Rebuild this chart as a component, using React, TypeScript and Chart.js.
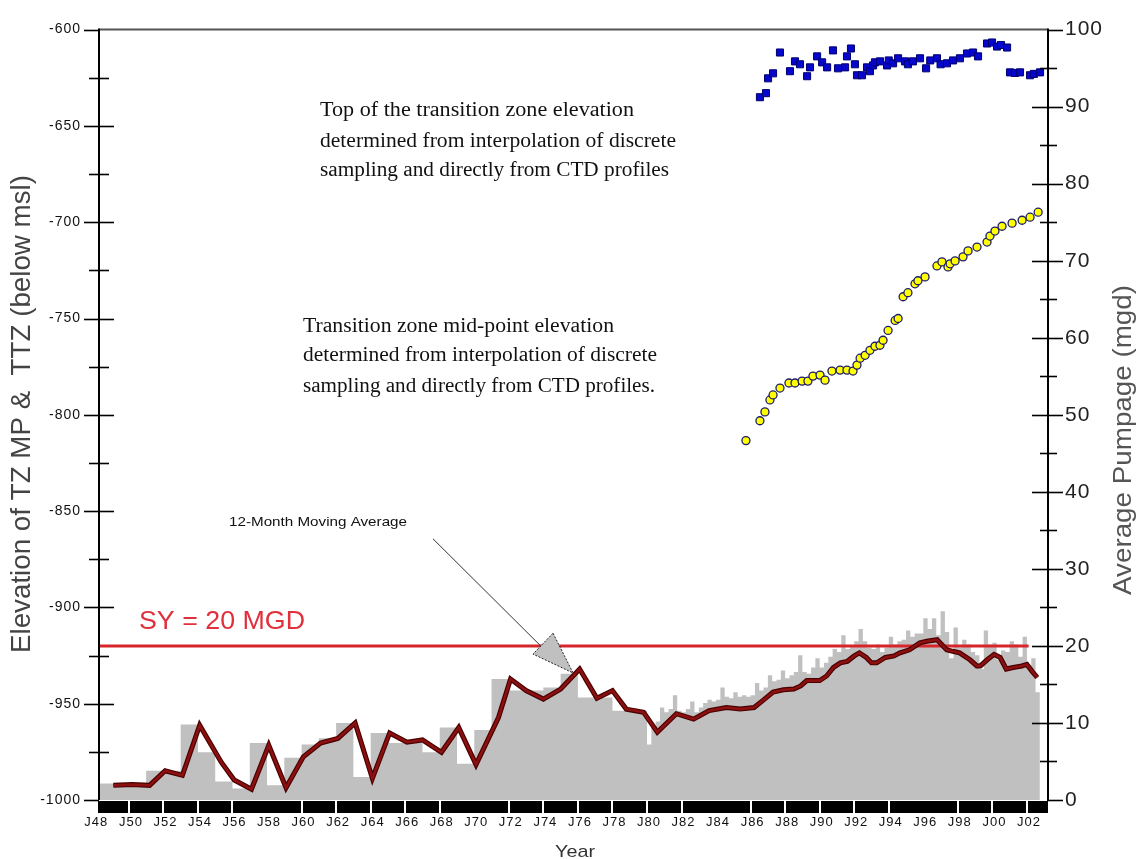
import React, { useEffect, useRef } from 'react';
import { Chart, registerables } from 'chart.js';

Chart.register(...registerables);

// ---------- DATA ----------
// Annual average pumpage (mgd), value holds from Jan of the year
const annualYears = [1948, 1949, 1950, 1951, 1952, 1953, 1954, 1955, 1956, 1957, 1958, 1959, 1960, 1961, 1962, 1963, 1964, 1965, 1966, 1967, 1968, 1969, 1970, 1971, 1972, 1973, 1974, 1975, 1976, 1977, 1978, 1979];
const annualPumpage = [2.15, 2.15, 2.15, 3.8, 3.8, 9.8, 6.2, 2.4, 1.5, 7.4, 1.9, 5.5, 7.2, 8.0, 10.0, 3.0, 8.7, 7.4, 7.4, 6.2, 9.4, 4.7, 9.1, 15.7, 14.2, 14.2, 14.6, 16.4, 13.3, 13.3, 11.6, 11.6];

// Quarterly average pumpage (mgd) from 1980 on
const quarterYears = [1980, 1981, 1982, 1983, 1984, 1985, 1986, 1987, 1988, 1989, 1990, 1991, 1992, 1993, 1994, 1995, 1996, 1997, 1998, 1999, 2000, 2001, 2002];
const quarterlyPumpage = [
  [7.2, 9.4, 10.2, 12.0],
  [11.4, 11.8, 13.6, 11.6],
  [11.4, 11.8, 12.8, 11.4],
  [12.0, 12.6, 13.0, 12.8],
  [13.0, 14.6, 13.4, 13.2],
  [14.0, 13.4, 13.6, 13.4],
  [13.6, 15.2, 14.2, 14.6],
  [16.2, 15.4, 15.6, 16.8],
  [15.8, 16.2, 16.6, 18.8],
  [16.6, 16.4, 17.2, 18.4],
  [17.2, 17.8, 18.6, 19.6],
  [19.2, 21.4, 19.6, 20.0],
  [20.6, 22.2, 20.6, 19.8],
  [19.6, 20.2, 19.2, 19.8],
  [21.2, 20.2, 20.6, 20.8],
  [22.0, 21.2, 21.6, 21.6],
  [23.6, 22.2, 23.6, 21.4],
  [24.5, 21.8, 18.4, 22.4],
  [19.8, 20.8, 20.2, 19.2],
  [18.8, 17.0, 22.0, 20.2],
  [20.4, 18.2, 19.4, 19.2],
  [20.6, 20.2, 18.6, 21.2],
  [17.2, 18.4, 14.0],
];
const pumpageEndYear = 2002.75;

// 12-month moving average (year, mgd)
const movingAverage: [number, number][] = [
  [1949.1, 1.9], [1950.2, 2.0], [1951.2, 1.9], [1952.1, 3.8], [1953.1, 3.2], [1954.1, 9.7], [1955.35, 4.9],
  [1956.1, 2.6], [1957.1, 1.4], [1958.1, 7.1], [1959.1, 1.6], [1960.1, 5.6], [1961.1, 7.4], [1962.1, 8.0],
  [1963.1, 10.0], [1964.1, 2.8], [1965.1, 8.7], [1966.1, 7.5], [1967.0, 7.8], [1968.1, 6.2], [1969.1, 9.4],
  [1970.1, 4.6], [1971.4, 10.7], [1972.1, 15.7], [1973.0, 14.2], [1974.0, 13.1], [1975.0, 14.4], [1976.1, 17.0],
  [1977.1, 13.2], [1978.0, 14.2], [1978.8, 11.8], [1979.8, 11.4], [1980.6, 8.8], [1981.7, 11.2], [1982.7, 10.5],
  [1983.6, 11.6], [1984.6, 12.0], [1985.4, 11.8], [1986.2, 12.0], [1986.7, 12.9], [1987.3, 14.0], [1987.9, 14.3],
  [1988.5, 14.4], [1988.9, 14.8], [1989.25, 15.5], [1990.0, 15.5], [1990.4, 16.1], [1990.8, 17.2], [1991.2, 17.8],
  [1991.6, 18.0], [1992.0, 18.7], [1992.3, 19.1], [1992.7, 18.5], [1993.0, 17.8], [1993.3, 17.8], [1993.8, 18.5],
  [1994.3, 18.7], [1994.65, 19.1], [1995.2, 19.5], [1995.8, 20.4], [1996.2, 20.6], [1996.8, 20.8], [1997.35, 19.5],
  [1997.7, 19.3], [1998.1, 19.1], [1998.7, 18.2], [1999.1, 17.4], [1999.3, 17.4], [1999.7, 18.2], [2000.1, 18.9],
  [2000.45, 18.5], [2000.8, 17.0], [2001.2, 17.2], [2001.7, 17.4], [2002.0, 17.6], [2002.3, 16.7], [2002.6, 15.9],
];

// Top of transition zone elevation (year, ft)
const tzTop: [number, number][] = [
  [1986.54, -635.1], [1986.89, -633.0], [1987.01, -625.3], [1987.30, -622.7], [1987.70, -611.9], [1988.28, -621.6],
  [1988.57, -616.5], [1988.86, -618.0], [1989.27, -624.2], [1989.44, -619.6], [1989.85, -613.9], [1990.14, -617.0],
  [1990.43, -619.6], [1990.77, -610.8], [1991.06, -620.1], [1991.47, -619.6], [1991.58, -613.9], [1991.81, -609.8],
  [1992.04, -618.0], [1992.16, -623.7], [1992.45, -623.7], [1992.74, -619.6], [1992.91, -621.6], [1993.09, -618.6],
  [1993.2, -617.0], [1993.49, -616.5], [1993.90, -618.6], [1994.0, -616.0], [1994.25, -617.5], [1994.54, -614.9],
  [1994.94, -616.5], [1995.11, -618.0], [1995.40, -616.5], [1995.81, -614.9], [1996.16, -620.1], [1996.4, -616.0],
  [1996.79, -614.9], [1997.0, -618.0], [1997.37, -617.5], [1997.72, -616.0], [1998.12, -614.9], [1998.53, -612.4],
  [1998.88, -611.9], [1999.17, -613.9], [1999.69, -607.2], [1999.98, -606.7], [2000.27, -608.8], [2000.5, -608.0],
  [2000.85, -609.3], [2001.02, -622.2], [2001.3, -622.5], [2001.60, -622.2], [2002.18, -623.7], [2002.4, -623.0],
  [2002.76, -622.2],
];

// Transition zone mid-point elevation (year, ft)
const tzMid: [number, number][] = [
  [1985.73, -813.4], [1986.54, -803.1], [1986.83, -798.5], [1987.12, -792.3], [1987.30, -789.7], [1987.70, -786.1],
  [1988.22, -783.5], [1988.57, -783.5], [1988.98, -782.5], [1989.32, -782.5], [1989.61, -779.9], [1990.02, -779.4],
  [1990.31, -782.0], [1990.71, -777.3], [1991.18, -776.8], [1991.58, -776.8], [1991.93, -777.3], [1992.16, -774.2],
  [1992.34, -770.6], [1992.63, -769.1], [1992.91, -766.5], [1993.20, -764.4], [1993.49, -763.9], [1993.67, -761.3],
  [1993.96, -756.2], [1994.37, -751.0], [1994.54, -750.0], [1994.83, -738.7], [1995.11, -736.6], [1995.52, -732.0],
  [1995.69, -730.4], [1996.10, -728.4], [1996.79, -722.7], [1997.08, -720.6], [1997.43, -723.2], [1997.55, -721.6],
  [1997.84, -720.1], [1998.30, -718.0], [1998.59, -714.9], [1999.11, -712.9], [1999.69, -710.3], [1999.86, -707.2],
  [2000.15, -704.6], [2000.56, -702.1], [2001.14, -700.5], [2001.72, -699.0], [2002.18, -697.4], [2002.65, -694.8],
];

// Safe yield line
const safeYieldYears = [1948.27, 2002.1];
const safeYieldMgd = 20;

// Axis ticks / band
const xMinYear = 1948.27;
const xMaxYear = 2003.22;
const xTickYears = [1948, 1950, 1952, 1954, 1956, 1958, 1960, 1962, 1964, 1966, 1968, 1970, 1972, 1974, 1976, 1978, 1980, 1982, 1984, 1986, 1988, 1990, 1992, 1994, 1996, 1998, 2000, 2002];
const bandSeparatorYears = [1950, 1952, 1954, 1956, 1960, 1962, 1964, 1966, 1968, 1972, 1974, 1976, 1978, 1980, 1982, 1986, 1988, 1990, 1992, 1994, 1998, 2000, 2002];

// Arrow annotation (year, mgd)
const arrowTail: [number, number] = [1967.61, 33.9];
const arrowHead: [number, number] = [1973.98, 19.7];
const arrowTriangle: [number, number][] = [[1974.56, 21.65], [1973.40, 18.94], [1975.72, 16.49]];

// ---------- HELPERS ----------
function fitText(ctx: CanvasRenderingContext2D, text: string, x: number, y: number, font: string, color: string, width: number, align: CanvasTextAlign = 'left', angle = 0) {
  ctx.save();
  ctx.font = font;
  ctx.fillStyle = color;
  ctx.textAlign = align;
  ctx.textBaseline = 'middle';
  const w = ctx.measureText(text).width;
  ctx.translate(x, y);
  if (angle) ctx.rotate(angle);
  ctx.scale(width / w, 1);
  ctx.fillText(text, 0, 0);
  ctx.restore();
}

function seg(ctx: CanvasRenderingContext2D, x1: number, y1: number, x2: number, y2: number) {
  ctx.beginPath();
  ctx.moveTo(x1, y1);
  ctx.lineTo(x2, y2);
  ctx.stroke();
}

const decorPlugin = {
  id: 'decor',
  beforeDraw(chart: any) {
    (chart.ctx as any).letterSpacing = '1px';
  },
  afterDraw(chart: any) {
    const ctx: CanvasRenderingContext2D = chart.ctx;
    (ctx as any).letterSpacing = '0px';
    const { left, right, top, bottom } = chart.chartArea;
    const xs = chart.scales.x;
    const yl = chart.scales.y;
    const yr = chart.scales.y2;
    ctx.save();

    // black year band
    ctx.fillStyle = '#000';
    ctx.fillRect(left - 1, bottom + 1, right - left + 1, 12);
    ctx.fillStyle = '#fff';
    bandSeparatorYears.forEach((yv) => {
      const px = Math.round(xs.getPixelForValue(yv));
      ctx.fillRect(px - 1, bottom + 1, 2, 12);
    });

    // axis lines
    ctx.lineWidth = 2;
    ctx.strokeStyle = '#555';
    seg(ctx, left, top, right, top);
    ctx.strokeStyle = '#000';
    seg(ctx, left, top - 1, left, bottom);
    seg(ctx, right, top - 1, right, bottom + 1);

    // left ticks (major + minor)
    ctx.lineWidth = 1.6;
    const lt = yl.ticks.map((t: any) => t.value);
    lt.forEach((v: number, i: number) => {
      const py = Math.round(yl.getPixelForValue(v)) + 0.5;
      const inner = i === 0 || i === lt.length - 1 ? left : left + 15;
      seg(ctx, left - 15, py, inner, py);
      if (i < lt.length - 1) {
        const pm = Math.round(yl.getPixelForValue((v + lt[i + 1]) / 2)) + 0.5;
        seg(ctx, left - 10, pm, left + 10, pm);
      }
    });
    // right ticks
    const rt = yr.ticks.map((t: any) => t.value);
    rt.forEach((v: number, i: number) => {
      const py = Math.round(yr.getPixelForValue(v)) + 0.5;
      const inner = i === 0 || i === rt.length - 1 ? right : right - 16;
      seg(ctx, inner, py, right + 15, py);
      if (i < rt.length - 1) {
        const pm = Math.round(yr.getPixelForValue((v + rt[i + 1]) / 2)) + 0.5;
        seg(ctx, right - 8, pm, right + 9, pm);
      }
    });

    // arrow annotation
    const tx = xs.getPixelForValue(arrowTail[0]);
    const ty = yr.getPixelForValue(arrowTail[1]);
    const hx = xs.getPixelForValue(arrowHead[0]);
    const hy = yr.getPixelForValue(arrowHead[1]);
    ctx.strokeStyle = '#333';
    ctx.lineWidth = 1;
    seg(ctx, tx, ty, hx, hy);
    ctx.beginPath();
    arrowTriangle.forEach(([ax, ay], i) => {
      const px = xs.getPixelForValue(ax);
      const py = yr.getPixelForValue(ay);
      if (i === 0) ctx.moveTo(px, py); else ctx.lineTo(px, py);
    });
    ctx.closePath();
    ctx.fillStyle = '#c0c0c0';
    ctx.fill();
    ctx.setLineDash([2, 1.5]);
    ctx.strokeStyle = '#222';
    ctx.stroke();
    ctx.setLineDash([]);

    // texts
    const serif = '20px "Liberation Serif", "Times New Roman", serif';
    fitText(ctx, 'Top of the transition zone elevation', 320, 111, serif, '#111', 314);
    fitText(ctx, 'determined from interpolation of discrete', 320, 142, serif, '#111', 356);
    fitText(ctx, 'sampling and directly from CTD profiles', 320, 171, serif, '#111', 349);
    fitText(ctx, 'Transition zone mid-point elevation', 303, 327, serif, '#111', 311);
    fitText(ctx, 'determined from interpolation of discrete', 303, 356, serif, '#111', 354);
    fitText(ctx, 'sampling and directly from CTD profiles.', 303, 387, serif, '#111', 352);

    fitText(ctx, '12-Month Moving Average', 229, 522, '13px "Liberation Sans", Arial, sans-serif', '#111', 178);
    fitText(ctx, 'SY = 20 MGD', 139, 622, '25px "Liberation Sans", Arial, sans-serif', '#e0303c', 166);

    // axis titles
    fitText(ctx, 'Elevation of TZ MP &  TTZ (below msl)', 22, 414, '28px "Liberation Sans", Arial, sans-serif', '#444', 478, 'center', -Math.PI / 2);
    fitText(ctx, 'Average Pumpage (mgd)', 1124, 440, '25px "Liberation Sans", Arial, sans-serif', '#555', 310, 'center', -Math.PI / 2);
    fitText(ctx, 'Year', 575, 852, '17px "Liberation Sans", Arial, sans-serif', '#333', 40, 'center');

    ctx.restore();
  },
};

export default function App() {
  const ref = useRef<HTMLCanvasElement>(null);

  useEffect(() => {
    const pumpPoints: { x: number; y: number }[] = annualYears.map((yr, i) => ({ x: yr, y: annualPumpage[i] }));
    quarterYears.forEach((yr, i) => {
      quarterlyPumpage[i].forEach((v, q) => pumpPoints.push({ x: yr + q / 4, y: v }));
    });
    pumpPoints.push({ x: pumpageEndYear, y: pumpPoints[pumpPoints.length - 1].y });
    const maPoints = movingAverage.map(([x, y]) => ({ x, y }));

    const chart = new Chart(ref.current as HTMLCanvasElement, {
      type: 'line',
      data: {
        datasets: [
          {
            label: 'TZ mid-point',
            data: tzMid.map(([x, y]) => ({ x, y })),
            yAxisID: 'y',
            showLine: false,
            pointStyle: 'circle',
            pointRadius: 4,
            pointBackgroundColor: '#ffff00',
            pointBorderColor: '#1c1c6a',
            pointBorderWidth: 1.3,
            order: 0,
          },
          {
            label: 'TZ top',
            data: tzTop.map(([x, y]) => ({ x, y })),
            yAxisID: 'y',
            showLine: false,
            pointStyle: 'rect',
            pointRadius: 5,
            pointBackgroundColor: '#0606cc',
            pointBorderColor: '#000070',
            pointBorderWidth: 1,
            order: 1,
          },
          {
            label: '12-Month Moving Average',
            data: maPoints,
            yAxisID: 'y2',
            borderColor: '#8c1010',
            borderWidth: 2.6,
            pointRadius: 0,
            tension: 0,
            order: 2,
          },
          {
            label: '12-Month Moving Average outline',
            data: maPoints,
            yAxisID: 'y2',
            borderColor: '#4a0000',
            borderWidth: 5,
            pointRadius: 0,
            tension: 0,
            order: 3,
          },
          {
            label: 'SY',
            data: safeYieldYears.map((x) => ({ x, y: safeYieldMgd })),
            yAxisID: 'y2',
            borderColor: '#d6262b',
            borderWidth: 3,
            pointRadius: 0,
            order: 4,
          },
          {
            label: 'Pumpage',
            data: pumpPoints,
            yAxisID: 'y2',
            stepped: true,
            fill: 'origin',
            backgroundColor: '#c0c0c0',
            borderColor: 'rgba(0,0,0,0)',
            borderWidth: 0,
            pointRadius: 0,
            order: 5,
          },
        ],
      },
      options: {
        responsive: false,
        animation: false,
        devicePixelRatio: 1,
        events: [],
        layout: { padding: { top: 24, left: 0, right: 0, bottom: 0 } },
        plugins: {
          legend: { display: false },
          tooltip: { enabled: false },
          title: { display: false },
        },
        scales: {
          x: {
            type: 'linear',
            position: 'bottom',
            min: xMinYear,
            max: xMaxYear,
            grid: { display: false, drawTicks: false },
            border: { display: false },
            afterBuildTicks: (s: any) => {
              s.ticks = xTickYears.map((v) => ({ value: v }));
            },
            afterFit: (s: any) => {
              s.height = 59;
            },
            ticks: {
              autoSkip: false,
              maxRotation: 0,
              minRotation: 0,
              padding: 15,
              labelOffset: 2,
              color: '#111',
              font: { family: '"Liberation Sans", Arial, sans-serif', size: 13 },
              callback: (v: any) => 'J' + String(Math.round(Number(v)) % 100).padStart(2, '0'),
            },
          },
          y: {
            type: 'linear',
            position: 'left',
            min: -1000,
            max: -600,
            grid: { display: false, drawTicks: false },
            border: { display: false },
            afterFit: (s: any) => {
              s.width = 99;
            },
            ticks: {
              stepSize: 50,
              padding: 18,
              color: '#111',
              font: { family: '"Liberation Sans", Arial, sans-serif', size: 14 },
              callback: (v: any) => String(v),
            },
          },
          y2: {
            type: 'linear',
            position: 'right',
            min: 0,
            max: 100,
            grid: { display: false, drawTicks: false },
            border: { display: false },
            afterFit: (s: any) => {
              s.width = 90;
            },
            ticks: {
              stepSize: 10,
              padding: 17,
              color: '#222',
              font: { family: '"Liberation Sans", Arial, sans-serif', size: 21 },
              callback: (v: any) => String(v),
            },
          },
        },
      } as any,
      plugins: [decorPlugin],
    });
    return () => chart.destroy();
  }, []);

  return (
    <div style={{ position: 'absolute', left: 0, top: 0, width: 1138, height: 859, background: '#fff' }}>
      <canvas ref={ref} width={1138} height={859} style={{ display: 'block' }} />
    </div>
  );
}
